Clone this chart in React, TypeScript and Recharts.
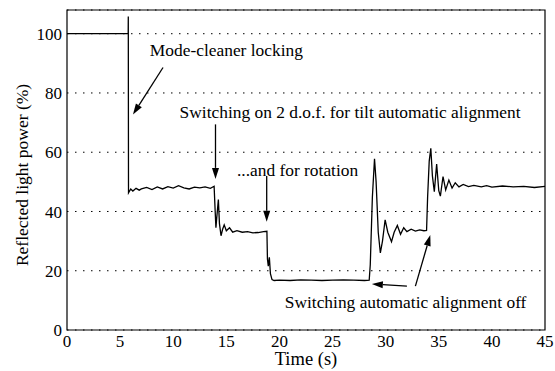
import React from 'react';
import {
  LineChart, Line, XAxis, YAxis, CartesianGrid,
  ReferenceArea, ReferenceDot, ReferenceLine,
} from 'recharts';

// Time (s) and reflected light power (%)
const time = [
  0, 5.76, 5.77, 5.79, 6.0, 6.2, 6.5, 6.8, 7.0, 7.5, 8.0, 8.5, 9.0, 9.5, 10.0, 10.5, 11.0, 11.5, 12.0,
  12.5, 13.0, 13.5, 13.85, 13.95, 14.02, 14.1, 14.25, 14.35, 14.5, 14.65, 14.8, 15.0, 15.3, 15.6,
  16.0, 16.5, 17.0, 17.5, 18.0, 18.5, 18.82, 18.87, 18.95, 19.05, 19.15, 19.3, 19.5, 20, 21, 22,
  23, 24, 25, 26, 27, 28, 28.45, 28.55, 28.75, 28.95, 29.1, 29.3, 29.5, 29.7, 29.95, 30.2, 30.55,
  30.8, 31.1, 31.4, 31.7, 32.0, 32.4, 32.8, 33.2, 33.6, 33.85, 33.95, 34.1, 34.25, 34.4, 34.58,
  34.8, 35.0, 35.15, 35.4, 35.65, 35.95, 36.25, 36.55, 36.9, 37.3, 37.8, 38.3, 39, 39.5, 40, 41,
  42, 43, 44, 45,
];
const power = [
  100, 100, 105.8, 46.3, 47.6, 46.9, 47.8, 47.2, 47.6, 48.1, 47.4, 48.3, 47.6, 48.4, 47.9, 48.7, 48.0, 47.6, 48.2,
  48.0, 48.3, 47.8, 48.5, 40, 34.5, 38, 44, 36, 31.8, 34, 35.5, 33.5, 34.5, 33,
  33.5, 33.0, 33.2, 32.8, 32.9, 33.2, 33.3, 24, 21.5, 24.5, 19, 17, 16.7, 16.8, 16.7, 16.9,
  16.8, 16.7, 16.8, 16.9, 16.8, 16.7, 16.8, 22, 45, 57.8, 50, 33, 26, 30, 37.2, 33, 29.8,
  33, 35.3, 32.3, 34.5, 33.2, 34, 33.4, 33.8, 33.5, 33.6, 45, 57, 61.3, 52, 46.7,
  56, 47, 45.2, 51.8, 47.3, 50.6, 47.9, 49.7, 48.3, 49.1, 48.4, 48.8, 48.3, 48.7, 48.2, 48.6,
  48.3, 48.5, 48.1, 48.5,
];
const xTicks = [0, 5, 10, 15, 20, 25, 30, 35, 40, 45];
const yTicks = [0, 20, 40, 60, 80, 100];

const noteText = [
  'Mode-cleaner locking',
  'Switching on 2 d.o.f. for tilt automatic alignment',
  '...and for rotation',
  'Switching automatic alignment off',
];
const noteX = [7.8, 10.6, 16.0, 20.5];
const noteY = [94.6, 73.7, 54.1, 9.5];

const arrowFrom = [[9.04, 88.6], [13.98, 69.4], [18.8, 52.0], [32.0, 14.8], [32.8, 14.8]];
const arrowTo = [[6.21, 72.7], [13.98, 51.0], [18.8, 36.5], [28.7, 15.5], [34.2, 32.1]];

const data = time.map((t, i) => ({ t, p: power[i] }));
const font = 'Liberation Serif';

function Arrow(props: any) {
  const { x1, y1, x2, y2 } = props;
  const a = Math.atan2(y2 - y1, x2 - x1);
  const L = 11, W = 3.5;
  const bx = x2 - L * Math.cos(a), by = y2 - L * Math.sin(a);
  const pts = `${x2},${y2} ${bx + W * Math.sin(a)},${by - W * Math.cos(a)} ${bx - W * Math.sin(a)},${by + W * Math.cos(a)}`;
  return (
    <g>
      <line x1={x1} y1={y1} x2={bx} y2={by} stroke="#000" strokeWidth={1.3} />
      <polygon points={pts} fill="#000" />
    </g>
  );
}

export default function App() {
  return (
    <div style={{ position: 'absolute', left: 0, top: 0, background: '#fff', fontFamily: font }}>
      <LineChart width={555} height={371} data={data}
        margin={{ top: 10, right: 10, bottom: 0, left: 0 }}>
        <CartesianGrid horizontal vertical={false} stroke="#000" strokeDasharray="1.5 6.5" />
        <XAxis dataKey="t" type="number" domain={[0, 45]} ticks={xTicks} height={41}
          tickSize={0} tickMargin={5} axisLine={false} tickLine={false}
          tick={{ fill: '#000', fontSize: 17, fontFamily: font }}
          label={{ value: 'Time (s)', position: 'insideBottom', offset: 6, fill: '#000', fontSize: 18.5, fontFamily: font }} />
        <YAxis type="number" domain={[0, 108]} ticks={yTicks} width={67}
          tickSize={0} tickMargin={5} axisLine={false} tickLine={false}
          tick={{ fill: '#000', fontSize: 17, fontFamily: font }}
          label={{
            content: (p: any) => {
              const vb = p.viewBox || { y: 10, height: 320 };
              return (
                <text transform={`translate(22,${vb.y + vb.height / 2 + 5}) rotate(-90)`}
                  textAnchor="middle" dominantBaseline="central"
                  fill="#000" fontSize={17.5} fontFamily={font}>Reflected light power (%)</text>
              );
            },
          }} />
        <ReferenceArea x1={0} x2={45} y1={0} y2={108} fill="none" stroke="#000" strokeWidth={1.2} />
        <Line dataKey="p" type="linear" dot={false} stroke="#000" strokeWidth={1.3} isAnimationActive={false} />
        {arrowFrom.map((f, i) => (
          <ReferenceLine key={'a' + i} segment={[{ x: f[0], y: f[1] }, { x: arrowTo[i][0], y: arrowTo[i][1] }]}
            shape={Arrow} />
        ))}
        {noteText.map((s, i) => (
          <ReferenceDot key={'n' + i} x={noteX[i]} y={noteY[i]} r={1}
            shape={(p: any) => (
              <text x={p.cx} y={p.cy} textAnchor="start" dominantBaseline="central"
                fill="#000" fontSize={17.4} fontFamily={font}>{s}</text>
            )} />
        ))}
      </LineChart>
    </div>
  );
}
